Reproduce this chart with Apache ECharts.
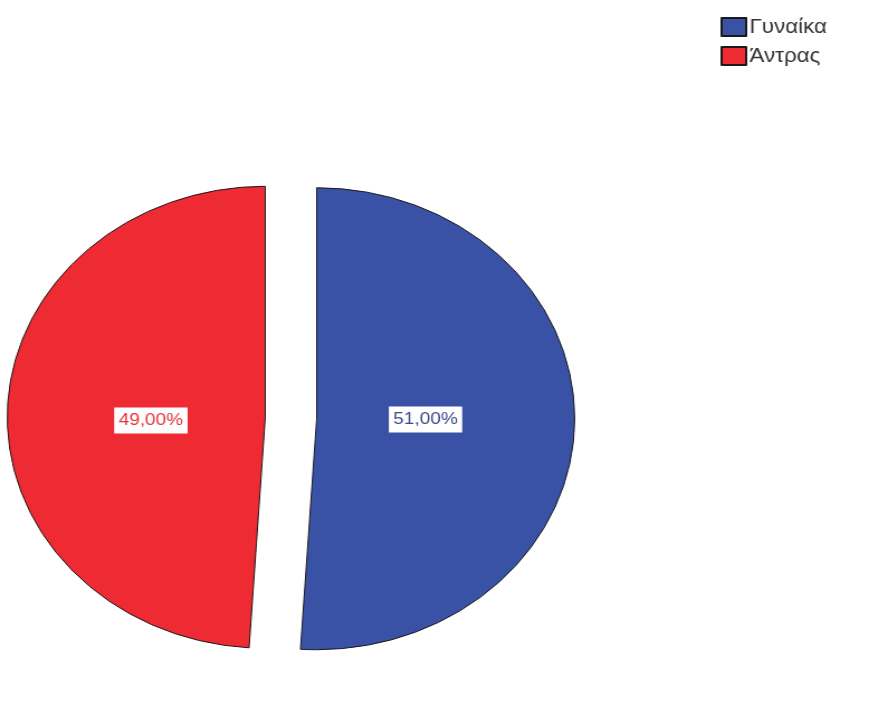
<!DOCTYPE html>
<html>
<head>
    <meta charset="utf-8">
    <title>Pie</title>
    <script src="https://cdn.jsdelivr.net/npm/echarts@6/dist/echarts.min.js"></script>
    <style>
        body { margin: 0; background: #fff; overflow: hidden; }
        /* the original pie is an ellipse, so the whole chart is stretched a bit horizontally */
        #main { width: 792px; height: 723px; transform: scaleX(1.117); transform-origin: 0 0; }
    </style>
</head>
<body>
    <div id="main"></div>
    <script type="text/javascript">
        var categories = ['Γυναίκα', 'Άντρας'];
        var percents = [51, 49];
        var colors = ['#3a52a6', '#ee2a33'];
        var labelColors = ['#3d4b8c', '#e8343c'];

        var myChart = echarts.init(document.getElementById('main'));

        var data = categories.map(function (c, i) {
            return {
                name: c,
                value: percents[i],
                selected: true,
                itemStyle: { color: colors[i] },
                label: { color: labelColors[i] }
            };
        });

        var option = {
            animation: false,
            legend: {
                data: categories,
                orient: 'vertical',
                left: 640,
                top: 12,
                icon: 'rect',
                itemWidth: 22,
                itemHeight: 18,
                itemGap: 9,
                textStyle: { fontSize: 20, color: '#333', fontFamily: 'Liberation Sans', padding: [0, 0, 0, -2] }
            },
            series: [{
                type: 'pie',
                center: [260.5, 418],
                radius: 231,
                startAngle: 90,
                clockwise: true,
                selectedMode: 'multiple',
                selectedOffset: 23,
                emphasis: { disabled: true },
                itemStyle: { borderColor: '#1a1a1a', borderWidth: 1 },
                select: { itemStyle: { borderColor: '#1a1a1a', borderWidth: 1 } },
                label: {
                    show: true,
                    position: 'inside',
                    fontSize: 17,
                    fontFamily: 'Liberation Sans',
                    backgroundColor: '#fff',
                    padding: [5, 4, 4, 4],
                    formatter: function (p) {
                        return p.value.toFixed(2).replace('.', ',') + '%';
                    }
                },
                labelLayout: function (p) {
                    return p.dataIndex === 0 ? { dx: -21, dy: -3 } : { dx: 16, dy: 7 };
                },
                data: data
            }]
        };

        myChart.setOption(option);
    </script>
</body>
</html>
